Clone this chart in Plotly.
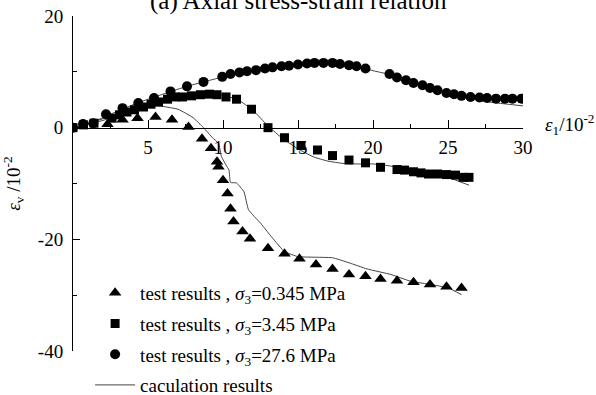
import plotly.graph_objects as go

# test results
tri_x = [2.3, 3.3, 4.3, 5.5, 6.6, 7.7, 8.6, 9.2, 9.6, 9.7, 10.0, 10.3, 10.5, 10.7, 11.3, 11.8, 13.0, 14.1, 15.1,
         16.2, 17.3, 18.4, 19.5, 20.5, 21.6, 22.7, 23.8, 24.9, 25.9]
tri_y = [0.6, 1.4, 1.7, 1.9, 1.4, 0.1, -2.0, -3.7, -6.1, -7.0, -9.4, -11.8, -14.5, -16.8, -18.6, -19.9, -21.6,
         -22.6, -23.5, -24.5, -25.3, -26.3, -26.6, -27.1, -27.4, -27.7, -28.1, -28.5, -28.7]

sq_x = [0, 0.7, 1.4, 2.6, 3.1, 3.6, 4.1, 4.7, 5.2, 5.7, 6.3, 6.8, 7.3, 7.9, 8.5, 9.1, 9.6, 10.2, 10.9, 11.9, 13.0,
        14.1, 15.2, 16.3, 17.3, 18.4, 19.5, 20.5, 21.6, 22.1, 22.7, 23.2, 23.7, 24.3, 24.9, 25.5, 26.0, 26.4]
sq_y = [0, 0.5, 0.8, 1.7, 2.3, 2.8, 3.2, 3.7, 4.2, 4.6, 5.1, 5.5, 5.5, 5.7, 5.9, 6.0, 5.9, 5.5, 5.1, 3.3, 0,
        -1.8, -3.2, -4.0, -5.0, -5.8, -6.3, -7.1, -7.5, -7.6, -7.9, -8.1, -8.3, -8.3, -8.4, -8.5, -8.9, -8.9]

cir_x = [0, 0.67, 1.35, 2.2, 3.3, 4.35, 5.4, 6.5, 7.6, 8.7, 9.95, 10.5, 11.1, 11.6, 12.2, 12.8, 13.3, 13.9, 14.4,
         15.0, 15.6, 16.1, 16.7, 17.3, 17.8, 18.4, 18.9, 19.5, 21.1, 21.6, 22.2, 22.7, 23.3, 23.8, 24.3, 24.9,
         25.4, 25.9, 26.5, 27.1, 27.6, 28.2, 28.8, 29.3, 29.9]
cir_y = [0, 0.65, 0.8, 2.4, 3.5, 4.4, 5.3, 6.5, 7.4, 8.2, 9.1, 9.6, 9.9, 10.1, 10.3, 10.6, 10.8, 11.0, 11.1,
         11.3, 11.5, 11.6, 11.6, 11.6, 11.4, 11.2, 11.0, 10.6, 9.6, 9.0, 8.5, 8.0, 7.6, 7.1, 6.7, 6.2,
         6.0, 5.7, 5.5, 5.4, 5.3, 5.2, 5.2, 5.2, 5.2]

# calculation results
calc_tri_x = [0, 1, 2, 3, 4, 5, 5.5, 6, 7, 8, 8.7, 9.3, 9.7, 9.9, 10.2, 10.4, 10.5, 10.9, 11.4, 11.7, 12.5,
              13.4, 14.1, 15.0, 16.0, 17.3, 18.4, 19.6, 21.2, 22.5, 23.9, 25.0, 25.9]
calc_tri_y = [0, 0.7, 1.6, 2.5, 3.3, 3.8, 3.9, 3.8, 3.3, 1.8, 0, -1.8, -2.8, -5.2, -6.7, -7.6, -9.8, -9.9,
              -11.5, -14.7, -17.1, -20.1, -22.2, -23.1, -23.2, -23.3, -24.2, -25.3, -26.3, -27.5, -28.1,
              -28.7, -29.9]

calc_sq_x = [0, 1, 2, 3, 4, 5, 6, 7, 8, 9, 10, 11, 12, 13, 14, 15, 16, 17, 18, 19, 20, 21, 22, 23, 24, 25, 26,
             26.4]
calc_sq_y = [0, 0.6, 1.3, 2.2, 3.1, 4.0, 4.8, 5.4, 5.9, 6.0, 5.8, 5.0, 3.1, 0.3, -2.0, -3.8, -5.2, -6.0, -6.4,
             -6.5, -6.5, -6.8, -7.3, -7.8, -8.3, -8.9, -9.9, -10.3]

calc_cir_x = [0, 1, 2, 3, 4, 5, 6, 7, 8, 9, 10, 11, 12, 13, 14, 15, 16, 17, 18, 19, 20, 21, 22, 23, 24, 25, 26,
              27, 28, 29, 30]
calc_cir_y = [0, 0.7, 1.8, 3.0, 4.1, 5.1, 6.0, 6.9, 7.7, 8.4, 9.1, 9.7, 10.2, 10.7, 11.0, 11.3, 11.5, 11.6,
              11.4, 10.9, 10.2, 9.6, 8.8, 8.0, 7.1, 6.3, 5.7, 4.9, 4.5, 4.2, 3.9]

x_ticks = [5, 10, 15, 20, 25, 30]
x_ticktext = ["5", "10", "15", "20", "25", "30"]
y_ticks = [-40, -20, 0, 20]
y_ticktext = ["-40", "-20", "0", "20"]

FONT = "Liberation Serif"
LINE_COLOR = "#444444"

fig = go.Figure()

legend_names = [
    "test results , <i>σ</i><sub>3</sub>=0.345 MPa",
    "test results , <i>σ</i><sub>3</sub>=3.45 MPa",
    "test results , <i>σ</i><sub>3</sub>=27.6 MPa",
]

for i, (cx, cy) in enumerate([(calc_tri_x, calc_tri_y), (calc_sq_x, calc_sq_y), (calc_cir_x, calc_cir_y)]):
    fig.add_trace(go.Scatter(
        x=cx, y=cy, mode="lines", line=dict(color=LINE_COLOR, width=1, shape="spline", smoothing=0.4),
        name="caculation results", legendgroup="calc", legendrank=4, showlegend=(i == 0),
    ))

for (xs, ys, sym, size, name, rank) in [
    (tri_x, tri_y, "triangle-up", 11, legend_names[0], 1),
    (sq_x, sq_y, "square", 9, legend_names[1], 2),
    (cir_x, cir_y, "circle", 10, legend_names[2], 3),
]:
    fig.add_trace(go.Scatter(
        x=xs, y=ys, mode="markers", marker=dict(symbol=sym, size=size, color="black"),
        name=name, legendgroup=name, legendrank=rank,
    ))

fig.update_layout(
    width=596, height=395,
    margin=dict(l=73, r=73, t=16, b=44, autoexpand=False),
    paper_bgcolor="white", plot_bgcolor="white",
    font=dict(family=FONT, size=19, color="black"),
    showlegend=True,
    legend=dict(x=0.038, y=0.23, xanchor="left", yanchor="top", bgcolor="rgba(0,0,0,0)",
                font=dict(size=19), traceorder="grouped", tracegroupgap=3, itemwidth=40),
    xaxis=dict(range=[0, 30], anchor="free", position=2/3, showline=True, linecolor="black", linewidth=1,
               ticks="inside", ticklen=8, tickcolor="black", tickvals=x_ticks, ticktext=x_ticktext,
               ticklabelstandoff=3, automargin=False,
               minor=dict(tickvals=[2.5, 7.5, 12.5, 17.5, 22.5, 27.5], ticks="inside", ticklen=4, tickcolor="black"),
               showgrid=False, zeroline=False),
    yaxis=dict(range=[-40, 20], showline=True, linecolor="black", linewidth=1, automargin=False,
               ticks="inside", ticklen=7, tickcolor="black", tickvals=y_ticks, ticktext=y_ticktext,
               ticklabelstandoff=5,
               minor=dict(tickvals=[-30, -10, 10], ticks="inside", ticklen=4, tickcolor="black"),
               showgrid=False, zeroline=False,
               title=dict(text="<i>ε</i><sub>v</sub> /10<sup>-2</sup>", standoff=18, font=dict(size=19))),
)

fig.add_annotation(
    text="(a) Axial stress-strain relation", xref="paper", yref="paper", x=0.5, y=1,
    xanchor="center", yanchor="bottom", yshift=-1, showarrow=False, font=dict(size=25),
)

fig.add_annotation(
    text="<i>ε</i><sub>1</sub>/10<sup>-2</sup>", xref="paper", yref="y", x=1, y=0,
    xanchor="left", yanchor="middle", xshift=20, yshift=3, showarrow=False, font=dict(size=19),
)

fig.write_html("out.html", config={"displayModeBar": False},
               post_script="document.body.style.margin='0';document.body.style.overflow='hidden';")
